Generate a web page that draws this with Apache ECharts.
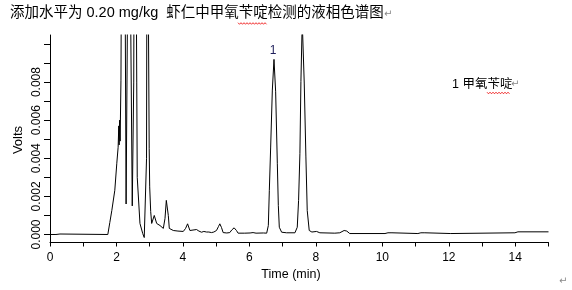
<!DOCTYPE html>
<html>
<head>
<meta charset="utf-8">
<script src="https://cdn.jsdelivr.net/npm/echarts@6/dist/echarts.min.js"></script>
<style>
html,body{margin:0;padding:0;background:#fff;}
#c{width:572px;height:290px;}
</style>
</head>
<body>
<div id="c"></div>
<script>
var titleText = '添加水平为 0.20 mg/kg  虾仁中甲氧苄啶检测的液相色谱图';
var xName = 'Time (min)';
var yName = 'Volts';
var legendText = '1 甲氧苄啶';
var peakLabel = '1';
var peakCoord = [6.74, 0.00919];

var xTickValues = [0,1,2,3,4,5,6,7,8,9,10,11,12,13,14,15];
var xLabelValues = [0,2,4,6,8,10,12,14];
var yTickValues = [0,0.001,0.002,0.003,0.004,0.005,0.006,0.007,0.008,0.009,0.010];
var yLabelValues = [0,0.002,0.004,0.006,0.008];

var times = [0,0.18,0.21,0.30,0.33,1.74,1.80,1.86,1.95,2.01,
2.05,2.07,2.08,2.095,2.11,2.135,2.165,2.21,2.255,2.29,
2.345,2.375,2.41,2.475,2.52,2.55,2.58,2.61,2.625,2.707,
2.79,2.836,2.88,2.905,2.93,2.96,2.985,3.0,3.03,3.06,
3.137,3.21,3.31,3.41,3.46,3.50,3.53,3.56,3.59,3.71,
3.85,4.01,4.08,4.14,4.21,4.27,4.41,4.48,4.56,4.63,
4.71,4.78,4.86,4.93,5.01,5.07,5.11,5.16,5.21,5.32,
5.41,5.47,5.54,5.61,5.66,5.86,6.02,6.11,6.20,6.42,
6.52,6.57,6.60,6.64,6.69,6.74,6.79,6.84,6.87,6.90,
6.97,7.12,7.37,7.44,7.48,7.52,7.55,7.59,7.65,7.70,
7.74,7.80,7.88,8.02,8.12,8.57,8.72,8.85,8.93,9.02,
10.08,10.17,10.29,10.35,11.07,11.16,11.28,11.34,12.06,12.09,
13.99,14.08,15.0];

var volts = [0,0,0.000026,0.000026,0,0,0.00063,0.00126,0.00232,0.00374,
0.00458,0.0057,0.0047,0.0060,0.0049,0.0081,0.020,0.030,0.015,0.0016,
0.015,0.030,0.015,0.0015,0.008,0.030,0.030,0.008,0.0030,0.00058,
0.00005,-0.00016,-0.00016,0.004,0.030,0.012,0.0045,0.0025,0.0012,0.00058,
0.0010,0.00058,0.00047,0.00032,0.00084,0.00179,0.00189,0.0010,0.00032,0.00021,
0.00018,0.00016,0.00032,0.00056,0.00021,0.00016,0.00026,0.00018,0.00012,0.00016,
0.00013,0.00013,0.00010,0.00013,0.00021,0.00042,0.00056,0.00037,0.00010,0.00008,
0.00010,0.00024,0.00035,0.00021,0.00007,0.00007,0.00008,0.00010,0.00007,0.00008,
0.00007,0.00047,0.00232,0.00459,0.00758,0.00919,0.00749,0.00374,0.00153,0.00038,
0.00012,0.00009,0.00009,0.00038,0.00179,0.00426,0.00802,0.0112,0.00795,0.00407,
0.00126,0.00021,0.00013,0.00016,0.00009,0.00007,0.00009,0.00021,0.00018,0.00005,
0.00005,0.00009,0.00009,0.00005,0.00005,0.00009,0.00009,0.00005,0.00005,0.00009,
0.00009,0.00014,0.00014];

var seriesData = times.map(function(t, i){ return [t, volts[i]]; });

var FONT = '"Liberation Sans", Arial, "Noto Sans CJK SC", sans-serif';

function wavy(x0, x1, y){
  var pts = [];
  var up = true;
  for (var x = x0; x <= x1; x += 1.5) { pts.push([x, up ? y - 0.8 : y + 0.8]); up = !up; }
  return pts;
}

var chart = echarts.init(document.getElementById('c'), null, {renderer:'canvas'});
chart.setOption({
  animation: false,
  backgroundColor: '#fff',
  grid: {left: 50, right: 23.5, top: 35, bottom: 47.5, containLabel: false},
  xAxis: {
    type: 'value', min: 0, max: 15,
    axisLine: {show: true, onZero: false, lineStyle: {color: '#000', width: 1}},
    axisTick: {show: true, length: 4, lineStyle: {color: '#000'}, customValues: xTickValues},
    axisLabel: {color: '#000', fontSize: 12, fontFamily: FONT, margin: 9, customValues: xLabelValues},
    splitLine: {show: false}
  },
  yAxis: {
    type: 'value', min: -0.00042, max: 0.01047,
    axisLine: {show: true, onZero: false, lineStyle: {color: '#000', width: 1}},
    axisTick: {show: true, length: 6, lineStyle: {color: '#000'}, customValues: yTickValues},
    axisLabel: {color: '#000', fontSize: 12, fontFamily: FONT, rotate: 90, margin: 7,
      customValues: yLabelValues,
      formatter: function(v){ return v.toFixed(3); }},
    splitLine: {show: false}
  },
  series: [{
    type: 'line',
    data: seriesData,
    showSymbol: false,
    clip: true,
    lineStyle: {color: '#000', width: 1},
    markPoint: {
      symbol: 'circle', symbolSize: 0,
      label: {show: true, formatter: peakLabel, color: '#1e1e5a', fontSize: 12, fontFamily: FONT, offset: [-1, -9]},
      data: [{coord: peakCoord}]
    }
  }],
  graphic: [
    {type: 'text', left: 10, top: 6, style: {text: titleText, font: '14.5px ' + FONT, fill: '#000'}},
    {type: 'text', left: 384, top: 9, style: {text: '↵', font: '10px "DejaVu Sans"', fill: '#888'}},
    {type: 'polyline', shape: {points: wavy(238, 267, 23.5)}, style: {stroke: '#e00', lineWidth: 0.8, fill: null}},
    {type: 'text', left: 452, top: 78, style: {text: legendText, font: '12.5px ' + FONT, fill: '#000'}},
    {type: 'text', left: 511, top: 79, style: {text: '↵', font: '10px "DejaVu Sans"', fill: '#888'}},
    {type: 'polyline', shape: {points: wavy(487, 510, 93)}, style: {stroke: '#e00', lineWidth: 0.8, fill: null}},
    {type: 'text', x: 18, y: 140, rotation: Math.PI/2, style: {text: yName, font: '13px ' + FONT, fill: '#000', align: 'center', verticalAlign: 'middle'}},
    {type: 'text', x: 291, y: 275, style: {text: xName, font: '12.5px ' + FONT, fill: '#000', align: 'center', verticalAlign: 'middle'}},
    {type: 'text', left: 559, top: 276, style: {text: '↵', font: '10px "DejaVu Sans"', fill: '#888'}}
  ]
});
</script>
</body>
</html>
